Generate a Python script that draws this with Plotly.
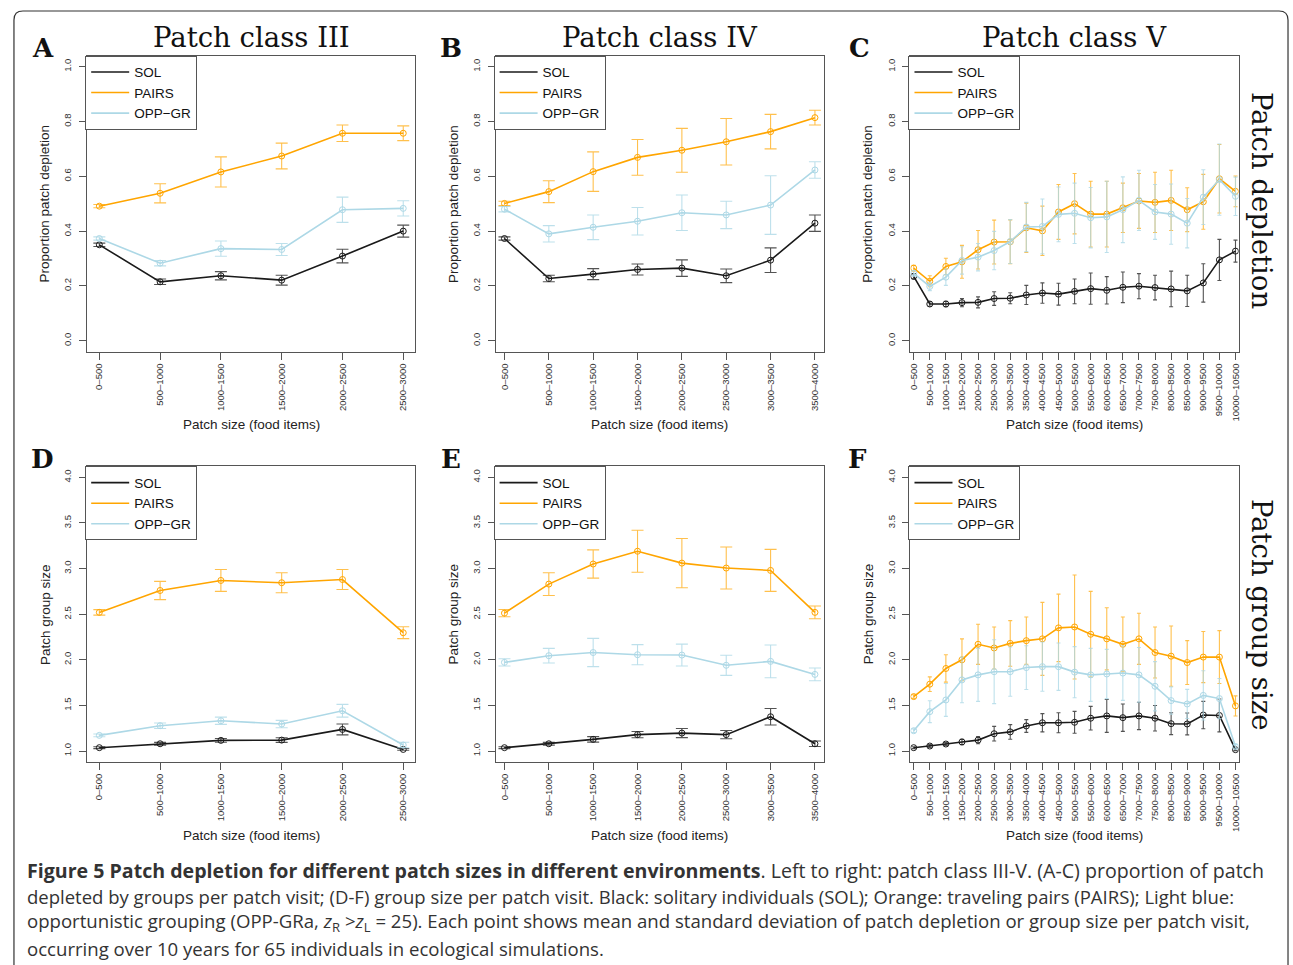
import plotly.graph_objects as go

W, H = 1293, 965

# ---------------- data ----------------
cats_III = ["0–500", "500–1000", "1000–1500", "1500–2000", "2000–2500", "2500–3000"]
cats_IV = ["0–500", "500–1000", "1000–1500", "1500–2000", "2000–2500", "2500–3000",
           "3000–3500", "3500–4000"]
cats_V = ["0–500", "500–1000", "1000–1500", "1500–2000", "2000–2500", "2500–3000",
          "3000–3500", "3500–4000", "4000–4500", "4500–5000", "5000–5500", "5500–6000",
          "6000–6500", "6500–7000", "7000–7500", "7500–8000", "8000–8500", "8500–9000",
          "9000–9500", "9500–10000", "10000–10500"]

# Panel A: depletion, class III
A_sol = [0.350, 0.215, 0.237, 0.221, 0.309, 0.400]
A_sol_sd = [0.006, 0.010, 0.015, 0.018, 0.025, 0.022]
A_pairs = [0.491, 0.538, 0.616, 0.674, 0.757, 0.757]
A_pairs_sd = [0.006, 0.035, 0.055, 0.047, 0.030, 0.027]
A_opp = [0.373, 0.283, 0.336, 0.333, 0.478, 0.483]
A_opp_sd = [0.006, 0.010, 0.028, 0.022, 0.046, 0.028]

# Panel B: depletion, class IV
B_sol = [0.373, 0.227, 0.243, 0.260, 0.265, 0.237, 0.294, 0.429]
B_sol_sd = [0.006, 0.012, 0.020, 0.020, 0.030, 0.025, 0.045, 0.030]
B_pairs = [0.501, 0.544, 0.617, 0.669, 0.695, 0.726, 0.763, 0.814]
B_pairs_sd = [0.008, 0.040, 0.072, 0.065, 0.080, 0.085, 0.063, 0.027]
B_opp = [0.480, 0.390, 0.414, 0.436, 0.467, 0.459, 0.495, 0.623]
B_opp_sd = [0.010, 0.030, 0.045, 0.050, 0.065, 0.050, 0.107, 0.030]

# Panel C: depletion, class V
C_sol = [0.235, 0.134, 0.134, 0.139, 0.140, 0.154, 0.155, 0.167, 0.174, 0.170, 0.180,
         0.190, 0.184, 0.195, 0.199, 0.194, 0.189, 0.182, 0.211, 0.295, 0.327]
C_sol_sd = [0.010, 0.008, 0.010, 0.015, 0.020, 0.025, 0.020, 0.035, 0.037, 0.040, 0.045,
            0.057, 0.050, 0.056, 0.046, 0.045, 0.065, 0.057, 0.070, 0.075, 0.040]
C_pairs = [0.265, 0.217, 0.271, 0.288, 0.332, 0.360, 0.361, 0.412, 0.401, 0.470, 0.500,
           0.462, 0.462, 0.485, 0.510, 0.505, 0.512, 0.478, 0.507, 0.591, 0.545]
C_pairs_sd = [0.010, 0.020, 0.030, 0.060, 0.070, 0.080, 0.080, 0.090, 0.090, 0.100, 0.110,
              0.120, 0.120, 0.090, 0.100, 0.110, 0.110, 0.080, 0.100, 0.125, 0.056]
C_opp = [0.246, 0.198, 0.232, 0.293, 0.305, 0.329, 0.362, 0.415, 0.417, 0.461, 0.465,
         0.449, 0.452, 0.478, 0.512, 0.470, 0.462, 0.429, 0.524, 0.588, 0.527]
C_opp_sd = [0.010, 0.015, 0.030, 0.050, 0.050, 0.070, 0.080, 0.090, 0.100, 0.100, 0.110,
            0.110, 0.130, 0.120, 0.110, 0.100, 0.110, 0.090, 0.100, 0.130, 0.070]

# Panel D: group size, class III
D_sol = [1.037, 1.080, 1.117, 1.120, 1.237, 1.018]
D_sol_sd = [0.010, 0.015, 0.020, 0.025, 0.060, 0.010]
D_pairs = [2.520, 2.760, 2.870, 2.845, 2.880, 2.297]
D_pairs_sd = [0.030, 0.100, 0.120, 0.110, 0.110, 0.065]
D_opp = [1.172, 1.278, 1.332, 1.296, 1.442, 1.066]
D_opp_sd = [0.015, 0.030, 0.040, 0.040, 0.070, 0.030]

# Panel E: group size, class IV
E_sol = [1.037, 1.080, 1.128, 1.180, 1.197, 1.180, 1.376, 1.080]
E_sol_sd = [0.010, 0.015, 0.030, 0.035, 0.050, 0.045, 0.090, 0.030]
E_pairs = [2.512, 2.830, 3.050, 3.190, 3.060, 3.006, 2.980, 2.520]
E_pairs_sd = [0.040, 0.125, 0.155, 0.230, 0.270, 0.230, 0.230, 0.070]
E_opp = [1.972, 2.045, 2.080, 2.056, 2.052, 1.940, 1.983, 1.840]
E_opp_sd = [0.040, 0.080, 0.155, 0.110, 0.120, 0.110, 0.180, 0.070]

# Panel F: group size, class V
F_sol = [1.037, 1.055, 1.077, 1.100, 1.120, 1.190, 1.210, 1.275, 1.310, 1.310, 1.315,
         1.360, 1.385, 1.366, 1.385, 1.360, 1.300, 1.297, 1.395, 1.390, 1.015]
F_sol_sd = [0.010, 0.015, 0.015, 0.030, 0.040, 0.080, 0.080, 0.070, 0.100, 0.110, 0.120,
            0.130, 0.180, 0.150, 0.150, 0.140, 0.120, 0.120, 0.150, 0.180, 0.010]
F_pairs = [1.597, 1.733, 1.905, 2.000, 2.170, 2.130, 2.180, 2.210, 2.230, 2.350, 2.360,
           2.280, 2.230, 2.170, 2.230, 2.080, 2.040, 1.970, 2.030, 2.030, 1.495]
F_pairs_sd = [0.020, 0.080, 0.150, 0.230, 0.220, 0.230, 0.250, 0.260, 0.400, 0.370, 0.570,
              0.470, 0.340, 0.300, 0.280, 0.280, 0.330, 0.240, 0.280, 0.290, 0.110]
F_opp = [1.223, 1.432, 1.560, 1.780, 1.835, 1.870, 1.870, 1.915, 1.925, 1.925, 1.865,
         1.835, 1.845, 1.855, 1.835, 1.710, 1.553, 1.516, 1.610, 1.575, 1.050]
F_opp_sd = [0.020, 0.120, 0.180, 0.250, 0.290, 0.350, 0.270, 0.240, 0.270, 0.260, 0.280,
            0.290, 0.270, 0.300, 0.300, 0.270, 0.150, 0.160, 0.270, 0.220, 0.020]

series_names = ["SOL", "PAIRS", "OPP−GR"]
line_colors = ["#1a1a1a", "#FFA500", "#ADD8E6"]
err_colors = ["rgba(26,26,26,0.75)", "rgba(255,165,0,0.7)", "rgba(173,216,230,0.8)"]

panels = [
    dict(cats=cats_III, ser=[(A_sol, A_sol_sd), (A_pairs, A_pairs_sd), (A_opp, A_opp_sd)], kind="dep", cap=6),
    dict(cats=cats_IV, ser=[(B_sol, B_sol_sd), (B_pairs, B_pairs_sd), (B_opp, B_opp_sd)], kind="dep", cap=6),
    dict(cats=cats_V, ser=[(C_sol, C_sol_sd), (C_pairs, C_pairs_sd), (C_opp, C_opp_sd)], kind="dep", cap=2),
    dict(cats=cats_III, ser=[(D_sol, D_sol_sd), (D_pairs, D_pairs_sd), (D_opp, D_opp_sd)], kind="grp", cap=6),
    dict(cats=cats_IV, ser=[(E_sol, E_sol_sd), (E_pairs, E_pairs_sd), (E_opp, E_opp_sd)], kind="grp", cap=6),
    dict(cats=cats_V, ser=[(F_sol, F_sol_sd), (F_pairs, F_pairs_sd), (F_opp, F_opp_sd)], kind="grp", cap=2),
]

# ---------------- layout geometry (pixels) ----------------
col_px = [(84.5, 414.0), (494.5, 824.0), (911.0, 1240.5)]
row_px = [(55.7, 351.7), (466.4, 762.0)]


def px(x):
    return x / W


def py(y):
    return 1 - y / H


FONT = "Liberation Sans"
SERIF = "DejaVu Serif"
AXC = "#555555"

fig = go.Figure()
layout = dict(
    width=W, height=H, margin=dict(l=0, r=0, t=0, b=0),
    paper_bgcolor="white", plot_bgcolor="white",
    font=dict(family=FONT, color="#222222"),
    showlegend=True,
)

annotations = []

for i, p in enumerate(panels):
    n = i + 1
    r, c = divmod(i, 3)
    x0, x1 = col_px[c]
    ytop, ybot = row_px[r]
    xa = "x" if n == 1 else f"x{n}"
    ya = "y" if n == 1 else f"y{n}"
    leg = "legend" if n == 1 else f"legend{n}"
    cats = p["cats"]
    for k, (vals, sd) in enumerate(p["ser"]):
        fig.add_trace(go.Scatter(
            x=cats, y=vals, mode="lines", name=series_names[k],
            line=dict(color=line_colors[k], width=1.6),
            xaxis=xa, yaxis=ya, legend=leg, showlegend=True, hoverinfo="skip"))
        fig.add_trace(go.Scatter(
            x=cats, y=vals, mode="markers", name=series_names[k],
            marker=dict(symbol="circle-open", size=6, color=line_colors[k], line=dict(width=1)),
            error_y=dict(type="data", array=sd, visible=True, color=err_colors[k],
                         thickness=1.1, width=p["cap"]),
            xaxis=xa, yaxis=ya, showlegend=False))

    xkey = "xaxis" if n == 1 else f"xaxis{n}"
    ykey = "yaxis" if n == 1 else f"yaxis{n}"
    layout[xkey] = dict(
        domain=[px(x0), px(x1)], anchor=ya, type="category",
        range=[-0.2, len(cats) - 1 + 0.2],
        showline=True, mirror=True, linecolor=AXC, linewidth=1,
        ticks="outside", ticklen=7, tickcolor=AXC, tickwidth=1,
        tickangle=-90, tickfont=dict(size=9.5, color="#333333", family=FONT),
        showgrid=False, zeroline=False, fixedrange=True)
    if p["kind"] == "dep":
        yr = [-0.04, 1.04]
        tv = [0.0, 0.2, 0.4, 0.6, 0.8, 1.0]
    else:
        yr = [0.88, 4.12]
        tv = [1.0, 1.5, 2.0, 2.5, 3.0, 3.5, 4.0]
    layout[ykey] = dict(
        domain=[py(ybot), py(ytop)], anchor=xa, range=yr,
        tickvals=tv, tickformat=".1f",
        showline=True, mirror=True, linecolor=AXC, linewidth=1,
        ticks="outside", ticklen=7, tickcolor=AXC, tickwidth=1,
        tickangle=-90, tickfont=dict(size=9.5, color="#333333", family=FONT),
        ticklabelstandoff=4,
        showgrid=False, zeroline=False, fixedrange=True)
    layout[leg] = dict(
        x=px(x0 - 2), y=py(ytop), xref="paper", yref="paper",
        xanchor="left", yanchor="top",
        bgcolor="white", bordercolor=AXC, borderwidth=1,
        font=dict(family=FONT, size=13.5, color="#111111"),
        tracegroupgap=0, itemwidth=38, entrywidth=114)

    # axis titles
    xc = (x0 + x1) / 2
    annotations.append(dict(
        text="Patch size (food items)", x=px(xc), y=py(ybot + 73), xref="paper", yref="paper",
        showarrow=False, xanchor="center", yanchor="middle",
        font=dict(family=FONT, size=13.5, color="#222222")))
    annotations.append(dict(
        text="Proportion patch depletion" if p["kind"] == "dep" else "Patch group size",
        x=px(x0 - 42.5), y=py((ytop + ybot) / 2), xref="paper", yref="paper",
        showarrow=False, xanchor="center", yanchor="middle", textangle=-90,
        font=dict(family=FONT, size=13.5, color="#222222")))

# panel titles
titles = ["Patch class III", "Patch class IV", "Patch class V"]
for c, t in enumerate(titles):
    x0, x1 = col_px[c]
    annotations.append(dict(
        text=t, x=px((x0 + x1) / 2), y=py(37), xref="paper", yref="paper",
        showarrow=False, xanchor="center", yanchor="middle",
        font=dict(family=SERIF, size=27.5, color="#111111")))

# panel letters
letters = [("A", 40, 48), ("B", 450, 48), ("C", 860, 48),
           ("D", 40, 459), ("E", 450, 459), ("F", 858, 459)]
for t, lx, ly in letters:
    annotations.append(dict(
        text=f"<b>{t}</b>", x=px(lx), y=py(ly), xref="paper", yref="paper",
        showarrow=False, xanchor="center", yanchor="middle",
        font=dict(family=SERIF, size=26, color="#111111")))

# row labels on the right
for t, ry in [("Patch depletion", 200), ("Patch group size", 615)]:
    annotations.append(dict(
        text=t, x=px(1264), y=py(ry), xref="paper", yref="paper",
        showarrow=False, xanchor="center", yanchor="middle", textangle=90,
        font=dict(family=SERIF, size=27.5, color="#111111")))

# caption
caption_lines = [
    "<b>Figure 5 Patch depletion for different patch sizes in different environments</b>. Left to right: patch class III-V. (A-C) proportion of patch",
    "depleted by groups per patch visit; (D-F) group size per patch visit. Black: solitary individuals (SOL); Orange: traveling pairs (PAIRS); Light blue:",
    "opportunistic grouping (OPP-GRa, <i>z</i><sub>R</sub> &gt;<i>z</i><sub>L</sub> = 25). Each point shows mean and standard deviation of patch depletion or group size per patch visit,",
    "occurring over 10 years for 65 individuals in ecological simulations.",
]
caption_sizes = [19.6, 18.5, 18.6, 18.6]
for j, line in enumerate(caption_lines):
    annotations.append(dict(
        text=line, x=px(22), y=py(870 + 26 * j), xref="paper", yref="paper",
        showarrow=False, xanchor="left", yanchor="middle",
        font=dict(family="Open Sans", size=caption_sizes[j], color="#333333")))

layout["annotations"] = annotations


def P(x, y):
    return f"{px(x):.5f},{py(y):.5f}"


border = ("M " + P(11, 990) + " L " + P(11, 20) + " Q " + P(11, 11) + " " + P(20, 11) +
          " L " + P(1281, 11) + " Q " + P(1290, 11) + " " + P(1290, 20) + " L " + P(1290, 990))
layout["shapes"] = [dict(type="path", path=border, xref="paper", yref="paper",
                         line=dict(color="#333333", width=1.2), fillcolor="rgba(0,0,0,0)")]

fig.update_layout(**layout)
fig.write_html("out.html", config={"displayModeBar": False},
               post_script="document.body.style.margin='0px';")
